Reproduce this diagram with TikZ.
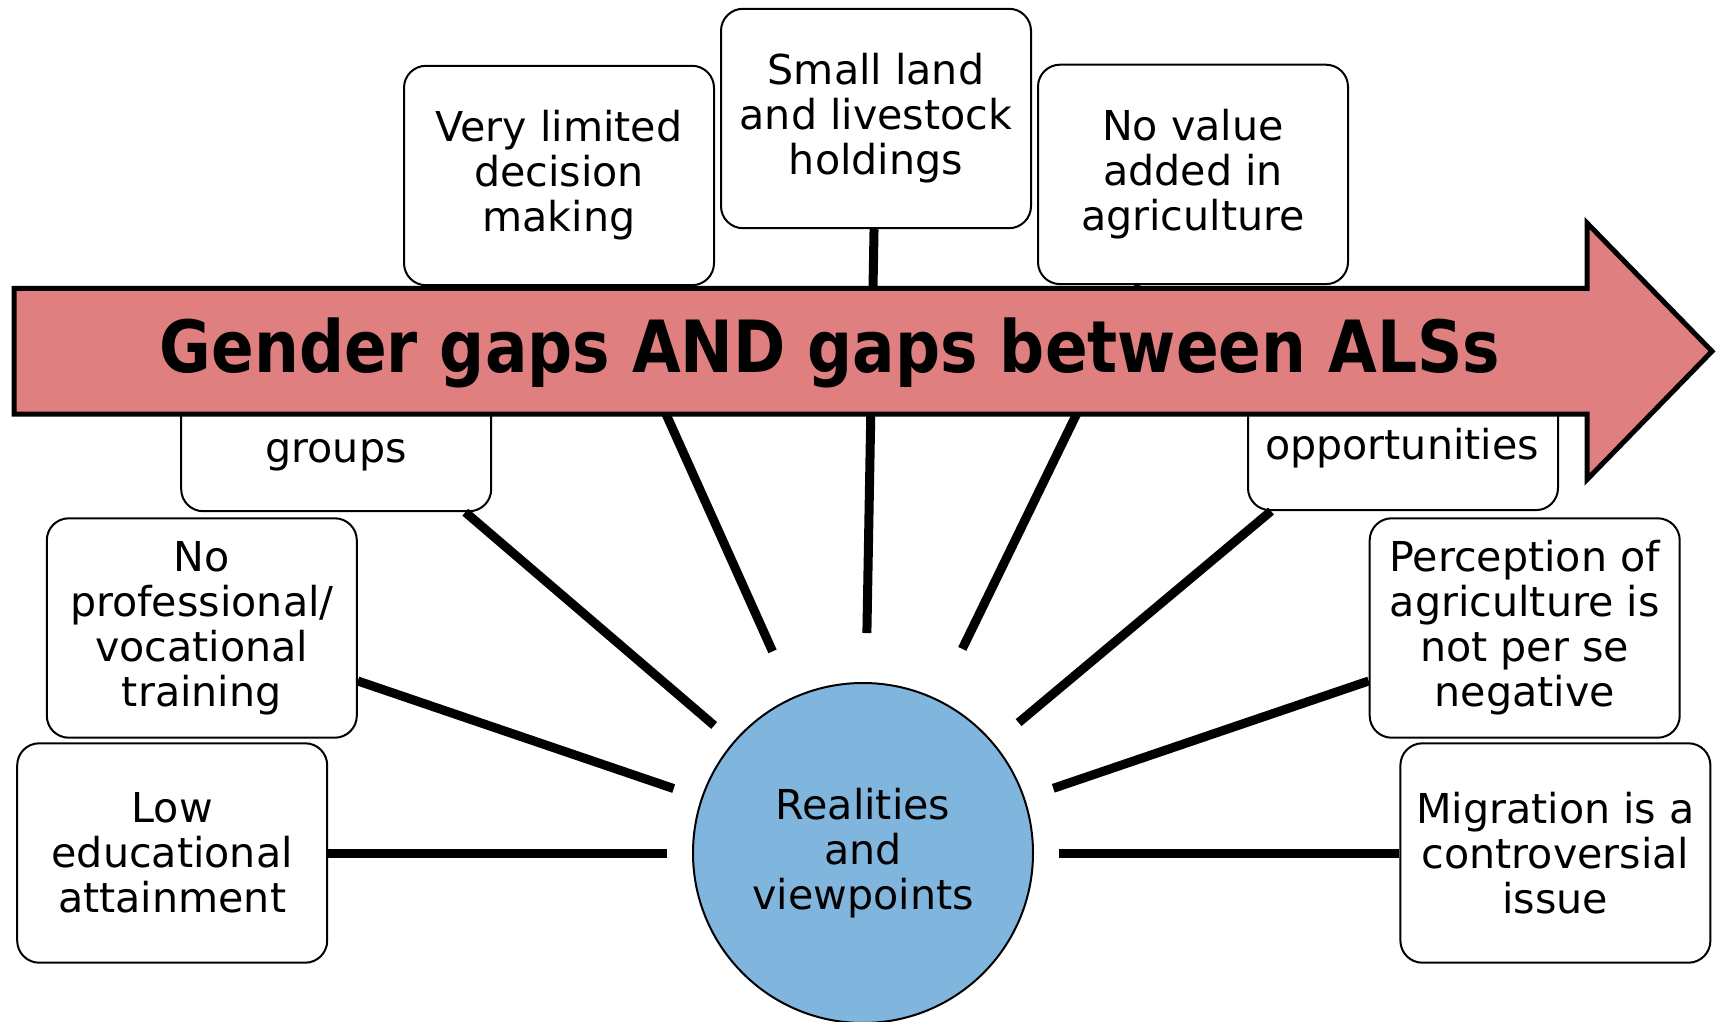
\documentclass[tikz,border=0pt]{standalone}
\usepackage{fontspec}
\usepackage{graphicx}
\setmainfont{DejaVu Sans}
\definecolor{arrowred}{RGB}{223,127,127}
\definecolor{circblue}{RGB}{128,182,222}
\begin{document}
\begin{tikzpicture}[x=0.5pt,y=-0.5pt,
  box/.style={draw, line width=1pt, rounded corners=11pt, fill=white,
    minimum width=155pt, minimum height=109.7pt, align=center,
    font=\fontsize{20.6}{22.5}\selectfont, inner sep=0pt},
  spoke/.style={line width=4.5pt},
  hub/.style={circle, draw, line width=1pt, fill=circblue, minimum size=170pt,
    align=center, font=\fontsize{20.6}{22.5}\selectfont, inner sep=0pt},
  bandtext/.style={font=\bfseries\fontsize{36}{40}\selectfont, inner sep=0pt},
  boxtext/.style={font=\fontsize{20.6}{22.5}\selectfont, inner sep=0pt, anchor=base}
]
\useasboundingbox (0,0) rectangle (1720,1022);

% hub
\node[hub] (c) at (863,853) {Realities\\and\\viewpoints};

% boxes
\node[box] (vl) at (559,175.5) {Very limited\\decision\\making};
\node[box] (sl) at (876,118.5) {Small land\\and livestock\\holdings};
\node[box] (nv) at (1193,174.4) {No value\\added in\\agriculture};
\node[box] (gr) at (336.2,401.5) {};
\node[box] (op) at (1403,400.4) {};
\node[box] (np) at (201.8,628) {No\\professional/\\vocational\\training};
\node[box] (pa) at (1524.7,628) {Perception of\\agriculture is\\not per se\\negative};
\node[box] (le) at (172.2,853) {Low\\educational\\attainment};
\node[box] (mi) at (1555.4,853) {Migration is a\\controversial\\issue};

% spokes
\draw[spoke, shorten >=12.5pt] (le) -- (c);
\draw[spoke, shorten >=14.5pt] (np) -- (c);
\draw[spoke, shorten >=12.5pt] (gr) -- (c);
\draw[spoke, shorten >=25pt] (vl) -- (c);
\draw[spoke, shorten >=24.5pt] (sl) -- (c);
\draw[spoke, shorten >=28pt] (nv) -- (c);
\draw[spoke, shorten >=16pt] (op) -- (c);
\draw[spoke, shorten >=15pt] (pa) -- (c);
\draw[spoke, shorten >=12.5pt] (mi) -- (c);

% visible text of the boxes partly hidden by the band
\node[boxtext] (grt) at (336,462) {groups};
\node[boxtext] (opt) at (1402,459.5) {opportunities};

% band arrow
\draw[line width=2.5pt, fill=arrowred, line join=miter]
  (14,288.4) -- (1587,288.4) -- (1587,223) -- (1712,351.3)
  -- (1587,479.6) -- (1587,414.2) -- (14,414.2) -- cycle;
\node[bandtext] (title) at (830,353) {\scalebox{0.875}[1]{Gender gaps AND gaps between ALSs}};
\end{tikzpicture}
\end{document}
